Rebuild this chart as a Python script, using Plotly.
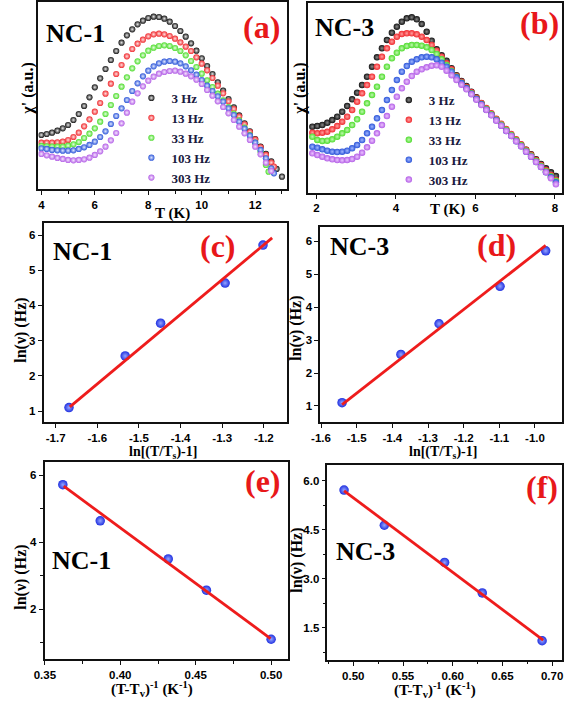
import plotly.graph_objects as go

W, H = 567, 703

# ---------------- data ----------------
FREQ_LABELS = ["3 Hz", "13 Hz", "33 Hz", "103 Hz", "303 Hz"]
COLORS = ["#111111", "#f0282d", "#4ddc2c", "#2c55d8", "#b35fe6"]
TINTS_A = ["#e8e8e8", "#ffe0e0", "#e6ffe0", "#e0e8ff", "#f6e6ff"]
TINTS_B = ["#8a8a8a", "#ffa0a0", "#c0f8b0", "#a0b6ff", "#ecc4ff"]

# (a) NC-1 : chi' (a.u.) vs T (K)
T_A = [4.0, 4.2, 4.4, 4.6, 4.8, 5.0, 5.2, 5.4, 5.6, 5.8, 6.0, 6.2, 6.4, 6.6, 6.8,
       7.0, 7.2, 7.4, 7.6, 7.8, 8.0, 8.2, 8.4, 8.6, 8.8, 9.0, 9.2, 9.4, 9.6, 9.8,
       10.0, 10.2, 10.4, 10.6, 10.8, 11.0, 11.2, 11.4, 11.6, 11.8, 12.0, 12.2,
       12.4, 12.6, 12.8, 13.0]
T_A_3 = T_A
T_A_13 = T_A[:44] + [12.7]
T_A_33 = T_A[:43] + [12.5]
T_A_103 = T_A[:44] + [12.7]
T_A_303 = T_A[:44]
CHI_A_3 = [163, 166, 170, 176, 183, 193, 208, 226, 250, 276, 306, 333, 361, 388, 415,
           440, 462, 480, 495, 506, 514, 518, 517, 512, 503, 490, 475, 458, 438, 416,
           393, 370, 346, 321, 296, 271, 246, 222, 198, 174, 151, 128, 106, 84, 61, 38]
CHI_A_13 = [140, 140, 140, 141, 143, 148, 157, 170, 189, 210, 233, 259, 287, 317, 346,
            373, 399, 421, 437, 449, 459, 465, 467, 465, 460, 452, 441, 428, 415, 396,
            377, 357, 334, 311, 288, 264, 241, 218, 195, 172, 149, 126, 103, 80, 68]
CHI_A_33 = [130, 129, 128, 128, 128, 131, 135, 142, 154, 167, 183, 203, 226, 253, 280,
            308, 336, 363, 384, 402, 416, 425, 430, 432, 430, 424, 415, 402, 385, 367,
            347, 327, 307, 287, 267, 247, 227, 207, 185, 163, 140, 113, 73, 53]
CHI_A_103 = [123, 121, 118, 117, 116, 116, 117, 121, 126, 133, 143, 157, 174, 196, 220,
             243, 268, 295, 318, 339, 356, 369, 378, 383, 385, 383, 378, 369, 357, 344,
             328, 311, 295, 279, 263, 243, 223, 203, 182, 161, 140, 118, 93, 63, 48]
CHI_A_303 = [106, 102, 98, 94, 91, 88, 87, 88, 90, 95, 103, 114, 128, 147, 169,
             198, 230, 263, 288, 309, 326, 338, 347, 352, 355, 356, 353, 347, 339, 329,
             316, 298, 281, 264, 247, 228, 208, 188, 168, 148, 128, 105, 80, 55]

# (b) NC-3 : chi' (a.u.) vs T (K)
T_B = [1.9, 2.025, 2.15, 2.275, 2.4, 2.525, 2.65, 2.775, 2.9, 3.025, 3.15, 3.275,
       3.4, 3.525, 3.65, 3.775, 3.9, 4.025, 4.15, 4.275, 4.4, 4.525, 4.65, 4.775,
       4.9, 5.025, 5.15, 5.275, 5.4, 5.525, 5.65, 5.775, 5.9, 6.025, 6.15, 6.275,
       6.4, 6.525, 6.65, 6.775, 6.9, 7.025, 7.15, 7.275, 7.4, 7.525, 7.65, 7.775,
       7.9, 8.025]
CHI_B_3 = [198, 200, 203, 210, 218, 228, 243, 260, 280, 300, 323, 348, 378, 406, 433,
           458, 480, 498, 513, 523, 526, 520, 506, 483, 456, 430, 412, 396, 373, 352,
           335, 320, 303, 286, 268, 252, 236, 220, 204, 188, 173, 158, 144, 129, 115,
           100, 86, 73, 61, 50]
CHI_B_13 = [180, 178, 180, 183, 190, 200, 213, 228, 248, 273, 298, 323, 348, 378, 408,
            433, 453, 468, 476, 478, 478, 475, 468, 458, 443, 426, 408, 388, 370, 350,
            333, 317, 301, 285, 269, 254, 238, 222, 207, 191, 176, 160, 145, 129, 114,
            98, 83, 68, 53, 38]
CHI_B_33 = [168, 158, 155, 156, 160, 168, 178, 188, 203, 220, 243, 268, 293, 318, 348,
            378, 403, 420, 433, 440, 443, 443, 441, 436, 428, 416, 400, 383, 365, 348,
            330, 314, 298, 282, 266, 251, 235, 219, 204, 188, 173, 157, 142, 126, 111,
            95, 80, 64, 49, 35]
CHI_B_103 = [138, 135, 130, 126, 123, 122, 123, 126, 133, 143, 158, 178, 198, 223, 248,
             278, 308, 338, 363, 380, 393, 400, 406, 408, 406, 400, 390, 378, 363, 346,
             329, 313, 297, 281, 265, 249, 233, 217, 201, 185, 170, 154, 139, 123, 108,
             92, 77, 61, 46, 31]
CHI_B_303 = [118, 113, 108, 103, 100, 98, 97, 98, 101, 108, 120, 136, 156, 178, 203,
             230, 258, 288, 313, 333, 350, 363, 370, 376, 381, 382, 378, 366, 352, 338,
             324, 310, 295, 279, 263, 248, 232, 216, 201, 185, 170, 154, 139, 123, 108,
             92, 77, 61, 43, 25]

# ln(nu) for 3, 13, 33, 103, 303 Hz
LN_NU = [1.099, 2.565, 3.497, 4.635, 5.714]

# (c) NC-1 power law
X_C = [-1.668, -1.533, -1.448, -1.293, -1.202]
FIT_C_X = [-1.666, -1.180]
FIT_C_Y = [1.12, 5.92]
# (d) NC-3 power law
X_D = [-1.541, -1.376, -1.269, -1.098, -0.970]
FIT_D_X = [-1.541, -0.970]
FIT_D_Y = [1.04, 5.88]
# (e) NC-1 Vogel-Fulcher
X_E = [0.5000, 0.4571, 0.4318, 0.3867, 0.3619]
FIT_E_X = [0.3625, 0.4996]
FIT_E_Y = [5.67, 1.12]
# (f) NC-3 Vogel-Fulcher
X_F = [0.6899, 0.6297, 0.5918, 0.5312, 0.4907]
FIT_F_X = [0.4907, 0.6910]
FIT_F_Y = [5.69, 1.12]

# ---------------- figure ----------------
fig = go.Figure()

SERIES_A = [(T_A_3, CHI_A_3), (T_A_13, CHI_A_13), (T_A_33, CHI_A_33),
            (T_A_103, CHI_A_103), (T_A_303, CHI_A_303)]
SERIES_B = [(T_B, CHI_B_3), (T_B, CHI_B_13), (T_B, CHI_B_33),
            (T_B, CHI_B_103), (T_B, CHI_B_303)]

for i, (tx, cy) in enumerate(SERIES_A):
    fig.add_trace(go.Scatter(
        x=tx, y=cy, mode="markers", name=FREQ_LABELS[i], xaxis="x", yaxis="y",
        legend="legend",
        marker=dict(size=6.2, color=COLORS[i], line=dict(width=0),
                    gradient=dict(type="radial", color=TINTS_A[i]))))

for i, (tx, cy) in enumerate(SERIES_B):
    fig.add_trace(go.Scatter(
        x=tx, y=cy, mode="markers", name=FREQ_LABELS[i], xaxis="x2", yaxis="y2",
        legend="legend2",
        marker=dict(size=6.5, color=COLORS[i], line=dict(width=0),
                    gradient=dict(type="radial", color=TINTS_B[i]))))

SPHERE = dict(size=9.5, color="#1f30e0", line=dict(width=0),
              gradient=dict(type="radial", color="#95a4ff"))
FIT_LINE = dict(color="#ee1c1c", width=2.8)
for xs, fx, fy, ax in [(X_C, FIT_C_X, FIT_C_Y, 3), (X_D, FIT_D_X, FIT_D_Y, 4),
                       (X_E, FIT_E_X, FIT_E_Y, 5), (X_F, FIT_F_X, FIT_F_Y, 6)]:
    fig.add_trace(go.Scatter(x=xs, y=LN_NU, mode="markers", marker=SPHERE,
                             xaxis=f"x{ax}", yaxis=f"y{ax}", showlegend=False))
    fig.add_trace(go.Scatter(x=fx, y=fy, mode="lines", line=FIT_LINE,
                             xaxis=f"x{ax}", yaxis=f"y{ax}", showlegend=False))


def dom(x0, x1, y0, y1):
    return [x0 / W, x1 / W], [1 - y1 / H, 1 - y0 / H]


TICKFONT = dict(family="Liberation Sans", size=11.5, color="black", weight="bold")
BASE = dict(showline=True, linewidth=1.7, linecolor="#111111", mirror=True,
            ticks="outside", ticklen=4, tickwidth=1.4, tickcolor="#111111",
            showgrid=False, zeroline=False, tickfont=TICKFONT)
MINOR = dict(ticks="outside", ticklen=2.5, tickwidth=1.1, tickcolor="#111111")

dxa, dya = dom(28, 282, 2, 189.3)
dxb, dyb = dom(303, 563, 3, 192.7)
dxc, dyc = dom(33.3, 281.7, 222.7, 422)
dxd, dyd = dom(316, 563, 227.3, 422)
dxe, dye = dom(34.3, 282.7, 461.7, 659.3)
dxf, dyf = dom(323.3, 562.7, 465, 660)

fig.update_layout(
    xaxis=dict(BASE, domain=dxa, anchor="y", range=[3.89, 13.19], tick0=0, dtick=2,
               minor=dict(MINOR, dtick=1, tick0=0)),
    yaxis=dict(BASE, domain=dya, anchor="x", range=[0, 562], showticklabels=False,
               ticks=""),
    xaxis2=dict(BASE, domain=dxb, anchor="y2", range=[1.78, 8.18], tick0=0, dtick=2,
                minor=dict(MINOR, dtick=1, tick0=0)),
    yaxis2=dict(BASE, domain=dyb, anchor="x2", range=[0, 569], showticklabels=False,
                ticks=""),
    xaxis3=dict(BASE, domain=dxc, anchor="y3", range=[-1.729, -1.145],
                tickvals=[-1.7, -1.6, -1.5, -1.4, -1.3, -1.2],
                ticktext=["-1.7", "-1.6", "-1.5", "-1.4", "-1.3", "-1.2"]),
    yaxis3=dict(BASE, domain=dyc, anchor="x3", range=[0.69, 6.35], tick0=0, dtick=1),
    xaxis4=dict(BASE, domain=dxd, anchor="y4", range=[-1.602, -0.924],
                tickvals=[-1.6, -1.5, -1.4, -1.3, -1.2, -1.1, -1.0],
                ticktext=["-1.6", "-1.5", "-1.4", "-1.3", "-1.2", "-1.1", "-1.0"]),
    yaxis4=dict(BASE, domain=dyd, anchor="x4", range=[0.51, 6.43], tick0=0, dtick=1),
    xaxis5=dict(BASE, domain=dxe, anchor="y5", range=[0.3498, 0.511], tick0=0,
                dtick=0.05, tickformat=".2f", minor=dict(MINOR, dtick=0.025, tick0=0)),
    yaxis5=dict(BASE, domain=dye, anchor="x5", range=[0.50, 6.40], tick0=0, dtick=2,
                minor=dict(MINOR, dtick=1, tick0=0)),
    xaxis6=dict(BASE, domain=dxf, anchor="y6", range=[0.474, 0.7097], tick0=0,
                dtick=0.05, tickformat=".2f", minor=dict(MINOR, dtick=0.025, tick0=0)),
    yaxis6=dict(BASE, domain=dyf, anchor="x6", range=[0.51, 6.48], tick0=0,
                dtick=1.5, tickformat=".1f", minor=dict(MINOR, dtick=0.75, tick0=0)),
)

LEGFONT = dict(family="Liberation Serif", size=13, color="#1a1a40", weight="bold")
fig.update_layout(
    legend=dict(x=123 / W, y=1 - 83 / H, xanchor="left", yanchor="top", font=LEGFONT,
                bgcolor="rgba(0,0,0,0)", borderwidth=0, itemsizing="trace",
                tracegroupgap=0),
    legend2=dict(x=386 / W, y=1 - 85 / H, xanchor="left", yanchor="top", font=LEGFONT,
                 bgcolor="rgba(0,0,0,0)", borderwidth=0, itemsizing="trace",
                 tracegroupgap=0),
)

ann = []


def txt(text, px, py, size, color="black", angle=0, family="Liberation Serif"):
    ann.append(dict(text=text, x=px / W, y=1 - py / H, xref="paper", yref="paper",
                    xanchor="center", yanchor="middle", showarrow=False,
                    textangle=angle,
                    font=dict(family=family, size=size, color=color, weight="bold")))


# axis titles
TS = 15
YS = 16
txt("T (K)", 165, 213, TS)
txt("χ' (a.u.)", 17, 89, YS, angle=-90)
txt("T (K)", 446, 209.5, TS)
txt("χ' (a.u.)", 295, 89, YS, angle=-90)
txt("ln[(T/T<sub>s</sub>)-1]", 155, 452, 14)
txt("ln(ν) (Hz)", 10, 330, YS, angle=-90)
txt("ln[(T/T<sub>s</sub>)-1]", 441, 452, 14)
txt("ln(ν) (Hz)", 291, 328, YS, angle=-90)
txt("(T-T<sub>v</sub>)<sup>-1</sup> (K<sup>-1</sup>)", 144, 689, TS)
txt("ln(ν) (Hz)", 10, 577, YS, angle=-90)
txt("(T-T<sub>v</sub>)<sup>-1</sup> (K<sup>-1</sup>)", 433, 690, TS)
txt("ln(ν) (Hz)", 292, 560, YS, angle=-90)

# sample labels
NS = 26
txt("NC-1", 66, 33, NS)
txt("NC-3", 341, 28, NS)
txt("NC-1", 73, 251, NS)
txt("NC-3", 356, 247, NS)
txt("NC-1", 72, 560, NS)
txt("NC-3", 362, 551, NS)

# panel letters
LS = 32
RED = "#e8181a"
txt("(a)", 256, 27, LS, RED)
txt("(b)", 540, 23, LS, RED)
txt("(c)", 211, 246, LS, RED)
txt("(d)", 496, 245, LS, RED)
txt("(e)", 257, 481, LS, RED)
txt("(f)", 542, 487, LS, RED)

fig.update_layout(
    annotations=ann,
    width=W, height=H,
    margin=dict(l=0, r=0, t=0, b=0),
    paper_bgcolor="white", plot_bgcolor="white",
)

POST = ("document.body.style.margin='0px';"
        "document.body.style.padding='0px';"
        "document.body.style.overflow='hidden';"
        "document.documentElement.style.overflow='hidden';")
fig.write_html("out.html", post_script=POST, config={"displayModeBar": False})
